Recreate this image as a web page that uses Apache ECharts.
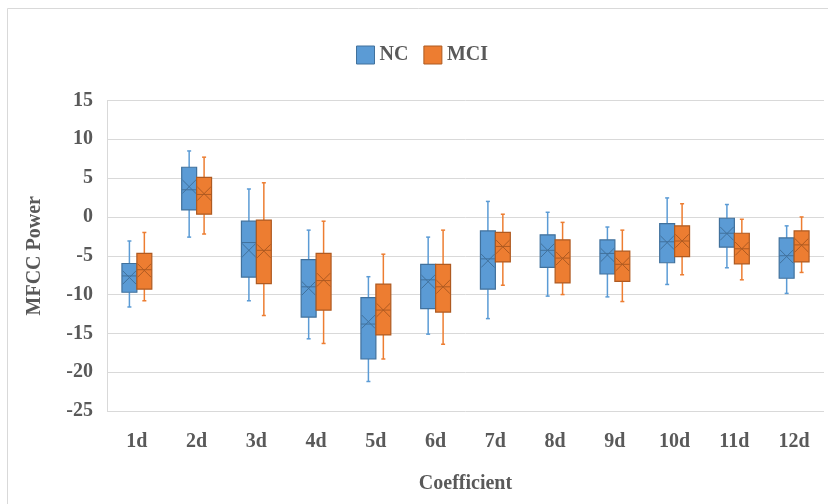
<!DOCTYPE html>
<html>
<head>
<meta charset="utf-8">
<script src="https://cdn.jsdelivr.net/npm/echarts@6/dist/echarts.min.js"></script>
<style>
  html, body { margin: 0; padding: 0; background: #fff; }
  #main { width: 828px; height: 504px; }
</style>
</head>
<body>
<div id="main"></div>
<script>
// categories
var categories = ['1d', '2d', '3d', '4d', '5d', '6d', '7d', '8d', '9d', '10d', '11d', '12d'];
var yTicks = [-25, 15, 5];   // min, max, interval

// [min, q1, median, q3, max, mean] for each coefficient
var ncData = [
    [-11.6, -9.7, -7.6, -6.0, -3.1, -7.8],
    [-2.6, 0.9, 3.5, 6.4, 8.5, 3.9],
    [-10.8, -7.75, -3.3, -0.55, 3.6, -4.3],
    [-15.7, -12.9, -9.0, -5.5, -1.7, -9.2],
    [-21.2, -18.3, -13.8, -10.4, -7.7, -13.5],
    [-15.1, -11.8, -8.1, -6.1, -2.6, -8.35],
    [-13.1, -9.3, -5.4, -1.8, 2.0, -5.65],
    [-10.2, -6.5, -4.3, -2.3, 0.6, -4.3],
    [-10.3, -7.35, -4.7, -2.95, -1.3, -4.9],
    [-8.7, -5.9, -3.2, -0.85, 2.45, -3.3],
    [-6.55, -3.9, -2.1, -0.17, 1.6, -2.15],
    [-9.85, -7.9, -5.0, -2.7, -1.15, -5.1]
];
var mciData = [
    [-10.8, -9.3, -6.8, -4.7, -2.0, -6.9],
    [-2.2, 0.35, 2.9, 5.1, 7.7, 3.0],
    [-12.7, -8.6, -4.3, -0.4, 4.4, -4.4],
    [-16.3, -12.0, -8.2, -4.7, -0.55, -8.1],
    [-18.3, -15.2, -12.0, -8.65, -4.8, -12.0],
    [-16.4, -12.25, -9.0, -6.1, -1.7, -9.0],
    [-8.8, -5.8, -3.8, -2.0, 0.35, -3.85],
    [-10.0, -8.5, -5.3, -2.95, -0.7, -5.35],
    [-10.9, -8.3, -6.1, -4.4, -1.7, -6.1],
    [-7.45, -5.1, -3.1, -1.15, 1.7, -3.1],
    [-8.1, -6.05, -4.1, -2.1, -0.3, -4.1],
    [-7.15, -5.8, -3.6, -1.8, 0.0, -3.65]
];

var fontBold = {fontFamily: 'Liberation Serif', fontWeight: 'bold', color: '#595959', fontSize: 20};

function toItems(arr) {
    return arr.map(function (d, i) { return [i].concat(d); });
}

// draws one Excel-style box with whiskers and mean cross
function makeRender(side, fill, stroke) {
    return function (params, api) {
        var band = api.size([1, 0])[0];
        var w = band * 0.25;
        var cx = api.coord([api.value(0), 0])[0] + side * w / 2;
        var yMin = api.coord([0, api.value(1)])[1];
        var yQ1 = api.coord([0, api.value(2)])[1];
        var yMed = api.coord([0, api.value(3)])[1];
        var yQ3 = api.coord([0, api.value(4)])[1];
        var yMax = api.coord([0, api.value(5)])[1];
        var yMean = api.coord([0, api.value(6)])[1];
        var x0 = cx - w / 2, x1 = cx + w / 2;
        var cap = 2;
        var lw = {stroke: fill, lineWidth: 1.5};
        var edge = {stroke: stroke, lineWidth: 1};
        var mk = w * 0.45;
        return {
            type: 'group',
            children: [
                {type: 'line', shape: {x1: cx, y1: yMax, x2: cx, y2: yQ3}, style: lw},
                {type: 'line', shape: {x1: cx, y1: yQ1, x2: cx, y2: yMin}, style: lw},
                {type: 'line', shape: {x1: cx - cap, y1: yMax, x2: cx + cap, y2: yMax}, style: lw},
                {type: 'line', shape: {x1: cx - cap, y1: yMin, x2: cx + cap, y2: yMin}, style: lw},
                {type: 'rect', shape: {x: x0, y: yQ3, width: w, height: yQ1 - yQ3},
                    style: {fill: fill, stroke: stroke, lineWidth: 1.2}},
                {type: 'line', shape: {x1: x0, y1: yMed, x2: x1, y2: yMed}, style: edge},
                {type: 'line', shape: {x1: cx - mk, y1: yMean - mk, x2: cx + mk, y2: yMean + mk}, style: edge},
                {type: 'line', shape: {x1: cx - mk, y1: yMean + mk, x2: cx + mk, y2: yMean - mk}, style: edge}
            ]
        };
    };
}

var chart = echarts.init(document.getElementById('main'), null, {renderer: 'canvas'});

var option = {
    backgroundColor: '#fff',
    animation: false,
    graphic: [{
        type: 'rect',
        shape: {x: 7.5, y: 8.5, width: 840, height: 520},
        style: {fill: 'none', stroke: '#D9D9D9', lineWidth: 1},
        silent: true
    }],
    legend: {
        left: 351,
        top: 40,
        itemWidth: 18,
        itemHeight: 18,
        itemGap: 15,
        icon: 'rect',
        textStyle: fontBold,
        data: [
            {name: 'NC', itemStyle: {color: '#5B9BD5', borderColor: '#41719C', borderWidth: 1}},
            {name: 'MCI', itemStyle: {color: '#ED7D31', borderColor: '#AE5A21', borderWidth: 1}}
        ]
    },
    grid: {left: 107, right: 4, top: 100.5, bottom: 93},
    xAxis: {
        type: 'category',
        data: categories,
        name: 'Coefficient',
        nameLocation: 'middle',
        nameGap: 63,
        nameTextStyle: fontBold,
        axisLine: {show: false},
        axisTick: {show: false},
        axisLabel: Object.assign({margin: 21}, fontBold),
        splitLine: {show: false}
    },
    yAxis: {
        type: 'value',
        min: yTicks[0],
        max: yTicks[1],
        interval: yTicks[2],
        name: 'MFCC Power',
        nameLocation: 'middle',
        nameGap: 62,
        nameTextStyle: fontBold,
        axisLine: {show: true, lineStyle: {color: '#D9D9D9', width: 1}},
        axisTick: {show: false},
        axisLabel: Object.assign({margin: 14}, fontBold),
        splitLine: {lineStyle: {color: '#D9D9D9', width: 1}}
    },
    series: [
        {
            name: 'NC',
            type: 'custom',
            itemStyle: {color: '#5B9BD5'},
            renderItem: makeRender(-1, '#5B9BD5', '#41719C'),
            encode: {x: 0, y: [1, 5]},
            data: toItems(ncData)
        },
        {
            name: 'MCI',
            type: 'custom',
            itemStyle: {color: '#ED7D31'},
            renderItem: makeRender(1, '#ED7D31', '#AE5A21'),
            encode: {x: 0, y: [1, 5]},
            data: toItems(mciData)
        }
    ]
};

chart.setOption(option);
</script>
</body>
</html>
